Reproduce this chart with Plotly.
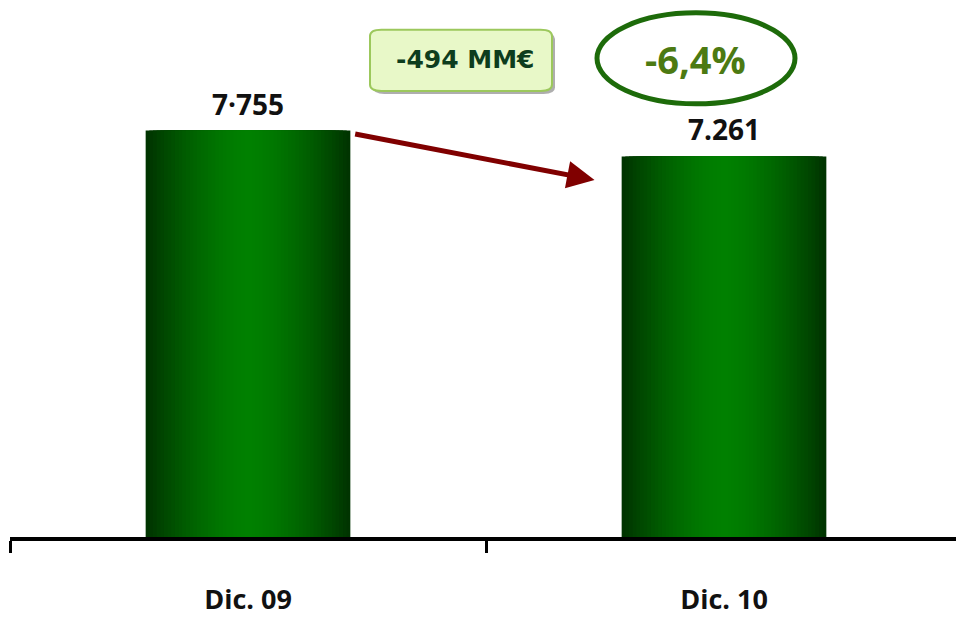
import plotly.graph_objects as go

# ---- data ----
categories = ["Dic. 09", "Dic. 10"]
values = [7755, 7261]
value_labels = ["7·755", "7.261"]
change_abs_label = "-494 MM€"
change_pct_label = "-6,4%"

# ---- style ----
DARK = (0, 52, 0)
BRIGHT = (0, 128, 0)
BAR_W = 0.43
N_LAYERS = 28

def lerp(c1, c2, t):
    return "rgb(%d,%d,%d)" % tuple(round(a + (b - a) * t) for a, b in zip(c1, c2))

fig = go.Figure()
for i in range(N_LAYERS):
    d = 1 - i / N_LAYERS          # normalized distance from centre (1 = edge)
    t = min(1.0, d ** 1.6)
    fig.add_trace(go.Bar(
        x=categories, y=values,
        width=BAR_W * d,
        marker=dict(color=lerp(BRIGHT, DARK, t), line=dict(width=0)),
        hoverinfo="skip", showlegend=False,
    ))

# value labels above bars
for c, v, lab in zip(categories, values, value_labels):
    fig.add_annotation(x=c, y=v, text=f"<b>{lab}</b>", showarrow=False,
                       yanchor="bottom", yshift=6,
                       font=dict(family="Open Sans", size=28, color="#111111"))

# arrow between bars (derived from values)
fig.add_annotation(x=0.728, y=values[1] - 450, ax=0.222, ay=values[0] - 60,
                   xref="x", yref="y", axref="x", ayref="y",
                   text="", showarrow=True, arrowhead=2, arrowsize=1.1,
                   arrowwidth=5, arrowcolor="#800000", standoff=0, startstandoff=0)

def rounded_rect(x0, y0, x1, y1, r):
    return (f"M{x0+r},{y0} L{x1-r},{y0} Q{x1},{y0} {x1},{y0+r} "
            f"L{x1},{y1-r} Q{x1},{y1} {x1-r},{y1} L{x0+r},{y1} "
            f"Q{x0},{y1} {x0},{y1-r} L{x0},{y0+r} Q{x0},{y0} {x0+r},{y0} Z")

W, H = 956, 617
ML, MR, MT, MB = 10, 0, 0, 74
PW, PH = W - ML - MR, H - MT - MB

def px(xp):
    return (xp - ML) / PW

def py(yp):
    return (MT + PH - yp) / PH

# rounded box for absolute change (with shadow)
fig.add_shape(type="path", xref="paper", yref="paper",
              path=rounded_rect(px(373), py(95), px(555), py(33), 0.012),
              fillcolor="rgba(120,120,120,0.6)", line=dict(width=0), layer="above")
fig.add_shape(type="path", xref="paper", yref="paper",
              path=rounded_rect(px(370), py(92), px(552), py(30), 0.012),
              fillcolor="#e8f8c8", line=dict(color="#9cc85c", width=2), layer="above")
fig.add_annotation(xref="paper", yref="paper", x=px(465), y=py(60),
                   xanchor="center", yanchor="middle",
                   text=f"<b>{change_abs_label}</b>", showarrow=False,
                   font=dict(family="DejaVu Sans", size=25, color="#0d3d1d"))

# ellipse for pct change
fig.add_shape(type="circle", xref="paper", yref="paper",
              x0=px(597), x1=px(795), y0=py(105), y1=py(13),
              line=dict(color="#1d6b0a", width=5), fillcolor="rgba(0,0,0,0)")
fig.add_annotation(xref="paper", yref="paper", x=px(695), y=py(60),
                   xanchor="center", yanchor="middle",
                   text=f"<b>{change_pct_label}</b>", showarrow=False,
                   font=dict(family="Open Sans", size=38, color="#4c7a12"))

fig.update_layout(
    width=W, height=H, barmode="overlay",
    margin=dict(l=ML, r=MR, t=MT, b=MB),
    plot_bgcolor="white", paper_bgcolor="white",
    showlegend=False,
    xaxis=dict(range=[-0.5, -0.5 + PW / 476], showgrid=False, zeroline=False,
               showline=True, linecolor="black", linewidth=4,
               ticks="outside", tickson="boundaries", ticklen=12, tickwidth=3,
               tickcolor="black", ticklabelstandoff=36,
               tickfont=dict(family="Open Sans", size=27, color="#111111"),
               tickvals=categories, ticktext=[f"<b>{c}</b>" for c in categories]),
    yaxis=dict(range=[0, PH / (411 / 7755)], visible=False, showgrid=False),
)

fig.write_html("out.html", config={"displayModeBar": False},
               post_script="document.body.style.margin='0';document.body.style.overflow='hidden';")
